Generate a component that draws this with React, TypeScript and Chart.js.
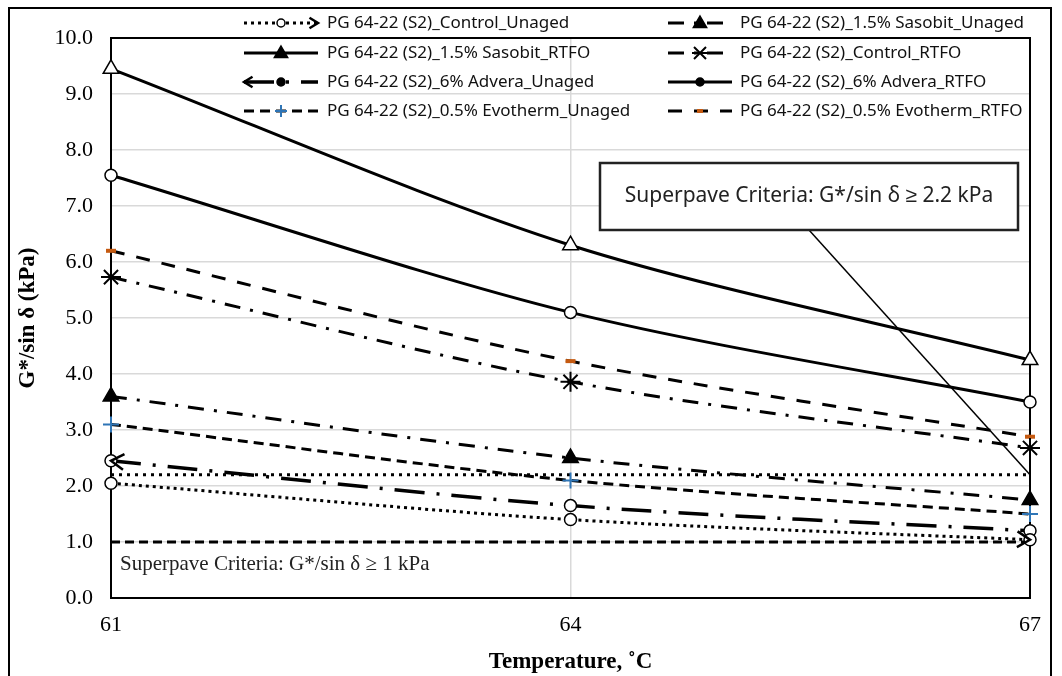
import React, { useEffect, useRef } from "react";
import { Chart, registerables } from "chart.js";

Chart.register(...registerables);

// ---------------- data ----------------
const temperatures = [61, 64, 67];
const xTickValues = [61, 64, 67];
const seriesNames = [
  "PG 64-22 (S2)_Control_Unaged",
  "PG 64-22 (S2)_1.5% Sasobit_Unaged",
  "PG 64-22 (S2)_1.5% Sasobit_RTFO",
  "PG 64-22 (S2)_Control_RTFO",
  "PG 64-22 (S2)_6% Advera_Unaged",
  "PG 64-22 (S2)_6% Advera_RTFO",
  "PG 64-22 (S2)_0.5% Evotherm_Unaged",
  "PG 64-22 (S2)_0.5% Evotherm_RTFO",
];
const controlUnaged = [2.05, 1.4, 1.04];
const sasobitUnaged = [3.6, 2.5, 1.75];
const sasobitRTFO = [9.45, 6.3, 4.25];
const controlRTFO = [5.73, 3.86, 2.68];
const adveraUnaged = [2.45, 1.65, 1.2];
const adveraRTFO = [7.55, 5.1, 3.5];
const evothermUnaged = [3.1, 2.1, 1.5];
const evothermRTFO = [6.2, 4.23, 2.88];
const criterionUnaged = 1.0;
const criterionRTFO = 2.2;
const yMin = 0;
const yMax = 10;
const yStep = 1;
const xTitle = "Temperature, ˚C";
const yTitle = "G*/sin δ (kPa)";
const noteRTFO = "Superpave Criteria: G*/sin δ ≥ 2.2 kPa";
const noteUnaged = "Superpave Criteria: G*/sin δ ≥ 1 kPa";

const SERIF = "'Liberation Serif', 'Times New Roman', serif";
const SANS = "'Noto Sans', 'Liberation Sans', sans-serif";

const toPts = (vals: number[]) => temperatures.map((t, i) => ({ x: t, y: vals[i] }));
const refLine = (v: number) => [
  { x: temperatures[0], y: v },
  { x: temperatures[temperatures.length - 1], y: v },
];

function drawMarker(ctx: CanvasRenderingContext2D, style: string, x: number, y: number, r: number, fill: string, stroke: string, lw: number) {
  ctx.save();
  ctx.setLineDash([]);
  ctx.lineWidth = lw;
  ctx.strokeStyle = stroke;
  ctx.fillStyle = fill;
  ctx.beginPath();
  if (style === "circle") {
    ctx.arc(x, y, r, 0, Math.PI * 2);
    ctx.fill();
    ctx.stroke();
  } else if (style === "triangle") {
    ctx.moveTo(x, y - r);
    ctx.lineTo(x + r * 0.95, y + r * 0.65);
    ctx.lineTo(x - r * 0.95, y + r * 0.65);
    ctx.closePath();
    ctx.fill();
    ctx.stroke();
  } else if (style === "cross") {
    ctx.moveTo(x - r, y);
    ctx.lineTo(x + r, y);
    ctx.moveTo(x, y - r);
    ctx.lineTo(x, y + r);
    ctx.stroke();
  } else if (style === "star") {
    ctx.moveTo(x - r, y);
    ctx.lineTo(x + r, y);
    const d = r * 0.75;
    ctx.moveTo(x - d, y - d);
    ctx.lineTo(x + d, y + d);
    ctx.moveTo(x - d, y + d);
    ctx.lineTo(x + d, y - d);
    ctx.stroke();
  } else if (style === "line") {
    ctx.moveTo(x - r, y);
    ctx.lineTo(x + r, y);
    ctx.stroke();
  }
  ctx.restore();
}

function drawArrowHead(ctx: CanvasRenderingContext2D, tx: number, ty: number, fx: number, fy: number, size: number) {
  const ang = Math.atan2(ty - fy, tx - fx);
  ctx.save();
  ctx.setLineDash([]);
  ctx.strokeStyle = "#000";
  ctx.lineWidth = 2.5;
  ctx.beginPath();
  ctx.moveTo(tx - size * Math.cos(ang - 0.55), ty - size * Math.sin(ang - 0.55));
  ctx.lineTo(tx, ty);
  ctx.lineTo(tx - size * Math.cos(ang + 0.55), ty - size * Math.sin(ang + 0.55));
  ctx.stroke();
  ctx.restore();
}

const framePlugin = {
  id: "plotFrame",
  beforeDatasetsDraw(chart: any) {
    const { ctx, chartArea: a } = chart;
    ctx.save();
    ctx.strokeStyle = "#000";
    ctx.lineWidth = 2;
    ctx.strokeRect(a.left, a.top, a.right - a.left, a.bottom - a.top);
    ctx.restore();
  },
};

const arrowPlugin = {
  id: "arrowEnds",
  afterDatasetsDraw(chart: any) {
    const ctx = chart.ctx;
    chart.data.datasets.forEach((ds: any, i: number) => {
      const pts = chart.getDatasetMeta(i).data;
      if (!pts || pts.length < 2) return;
      if (ds.arrowStart) drawArrowHead(ctx, pts[0].x, pts[0].y, pts[1].x, pts[1].y, 15);
      if (ds.arrowEnd) {
        const n = pts.length;
        drawArrowHead(ctx, pts[n - 1].x, pts[n - 1].y, pts[n - 2].x, pts[n - 2].y, 15);
      }
    });
  },
};

const legendPlugin = {
  id: "customLegend",
  afterDraw(chart: any) {
    const ctx: CanvasRenderingContext2D = chart.ctx;
    const cols = [
      { x0: 244, x1: 318, tx: 327 },
      { x0: 668, x1: 732, tx: 740 },
    ];
    const rows = [23, 53, 82, 111];
    const series = chart.data.datasets.filter((d: any) => !d.isRef);
    series.forEach((ds: any, i: number) => {
      const c = cols[i % 2];
      const y = rows[Math.floor(i / 2)];
      ctx.save();
      ctx.strokeStyle = ds.borderColor;
      ctx.lineWidth = ds.borderWidth;
      ctx.setLineDash(ds.borderDash || []);
      ctx.beginPath();
      ctx.moveTo(c.x0, y);
      ctx.lineTo(c.x1, y);
      ctx.stroke();
      ctx.restore();
      const mx = (c.x0 + c.x1) / 2;
      drawMarker(ctx, ds.pointStyle, mx, y, Math.max(3, ds.pointRadius - 2), ds.legendFill || ds.pointBorderColor, ds.pointBorderColor, ds.pointBorderWidth);
      if (ds.arrowStart) drawArrowHead(ctx, c.x0, y, c.x0 + 10, y, 10);
      if (ds.arrowEnd) drawArrowHead(ctx, c.x1, y, c.x1 - 10, y, 10);
      ctx.save();
      ctx.fillStyle = "#111";
      ctx.font = `17px ${SANS}`;
      ctx.textBaseline = "middle";
      ctx.textAlign = "left";
      ctx.fillText(ds.label, c.tx, y);
      ctx.restore();
    });

    // annotations
    const xs = chart.scales.x;
    const ys = chart.scales.y;
    const bx = 600, by = 163, bw = 418, bh = 67;
    ctx.save();
    ctx.strokeStyle = "#000";
    ctx.lineWidth = 1.5;
    ctx.beginPath();
    ctx.moveTo(bx + bw / 2, by + bh);
    ctx.lineTo(xs.getPixelForValue(temperatures[temperatures.length - 1]), ys.getPixelForValue(criterionRTFO));
    ctx.stroke();
    ctx.fillStyle = "#fff";
    ctx.fillRect(bx, by, bw, bh);
    ctx.lineWidth = 2.5;
    ctx.strokeStyle = "#222";
    ctx.strokeRect(bx, by, bw, bh);
    ctx.fillStyle = "#222";
    ctx.font = `21px ${SANS}`;
    ctx.textAlign = "center";
    ctx.textBaseline = "middle";
    ctx.fillText(noteRTFO, bx + bw / 2, by + bh / 2);
    ctx.font = `21px ${SERIF}`;
    ctx.textAlign = "left";
    ctx.fillStyle = "#222";
    ctx.fillText(noteUnaged, 120, ys.getPixelForValue(criterionUnaged) + 22);
    ctx.restore();
  },
};

export default function App() {
  const ref = useRef<HTMLCanvasElement | null>(null);

  useEffect(() => {
    if (!ref.current) return;
    const black = "#000";
    const datasets: any[] = [
      {
        label: seriesNames[0], data: toPts(controlUnaged), borderColor: black, borderWidth: 3,
        borderDash: [3, 4], pointStyle: "circle", pointRadius: 6, pointBorderColor: black,
        pointBackgroundColor: "#fff", pointBorderWidth: 1.5, legendFill: "#fff", arrowEnd: true,
      },
      {
        label: seriesNames[1], data: toPts(sasobitUnaged), borderColor: black, borderWidth: 3,
        borderDash: [16, 10, 3, 10], pointStyle: "triangle", pointRadius: 9, pointBorderColor: black,
        pointBackgroundColor: black, pointBorderWidth: 1.5,
      },
      {
        label: seriesNames[2], data: toPts(sasobitRTFO), borderColor: black, borderWidth: 3,
        borderDash: [], pointStyle: "triangle", pointRadius: 9, pointBorderColor: black,
        pointBackgroundColor: "#fff", pointBorderWidth: 1.5, legendFill: black,
      },
      {
        label: seriesNames[3], data: toPts(controlRTFO), borderColor: black, borderWidth: 3,
        borderDash: [16, 10, 3, 10], pointStyle: "star", pointRadius: 10, pointBorderColor: black,
        pointBackgroundColor: black, pointBorderWidth: 2,
      },
      {
        label: seriesNames[4], data: toPts(adveraUnaged), borderColor: black, borderWidth: 3.5,
        borderDash: [30, 12, 3, 12], pointStyle: "circle", pointRadius: 6, pointBorderColor: black,
        pointBackgroundColor: "#fff", pointBorderWidth: 1.5, legendFill: black, arrowStart: true,
      },
      {
        label: seriesNames[5], data: toPts(adveraRTFO), borderColor: black, borderWidth: 3,
        borderDash: [], pointStyle: "circle", pointRadius: 6, pointBorderColor: black,
        pointBackgroundColor: "#fff", pointBorderWidth: 1.5, legendFill: black,
      },
      {
        label: seriesNames[6], data: toPts(evothermUnaged), borderColor: black, borderWidth: 3,
        borderDash: [10, 6], pointStyle: "cross", pointRadius: 8, pointBorderColor: "#2e75b6",
        pointBackgroundColor: "#2e75b6", pointBorderWidth: 2,
      },
      {
        label: seriesNames[7], data: toPts(evothermRTFO), borderColor: black, borderWidth: 3,
        borderDash: [14, 12], pointStyle: "line", pointRadius: 5, pointBorderColor: "#c55a11",
        pointBackgroundColor: "#c55a11", pointBorderWidth: 4,
      },
      {
        label: "ref2.2", isRef: true, data: refLine(criterionRTFO), borderColor: black, borderWidth: 3,
        borderDash: [3, 5], pointRadius: 0, tension: 0,
      },
      {
        label: "ref1", isRef: true, data: refLine(criterionUnaged), borderColor: black, borderWidth: 3,
        borderDash: [9, 5], pointRadius: 0, tension: 0,
      },
    ];
    datasets.forEach((d) => {
      d.clip = false;
      d.fill = false;
      if (d.tension === undefined) d.tension = 0.3;
    });

    const chart = new Chart(ref.current, {
      type: "line",
      data: { datasets },
      options: {
        animation: false,
        responsive: false,
        layout: { padding: { top: 38, right: 32, left: 0, bottom: 0 } },
        plugins: { legend: { display: false }, tooltip: { enabled: false } },
        scales: {
          x: {
            type: "linear",
            min: temperatures[0],
            max: temperatures[temperatures.length - 1],
            afterBuildTicks: (s: any) => {
              s.ticks = xTickValues.map((v) => ({ value: v }));
            },
            afterFit: (s: any) => {
              s.height = 78;
            },
            grid: {
              drawTicks: false,
              lineWidth: 1.5,
              color: (c: any) => (c.tick && c.tick.value === 64 ? "#d9d9d9" : "rgba(0,0,0,0)"),
            },
            border: { display: true, color: "#000", width: 2 },
            ticks: { padding: 14, color: "#000", font: { family: SERIF, size: 22 } },
            title: {
              display: true, text: xTitle, color: "#000",
              font: { family: SERIF, size: 23, weight: "bold" }, padding: { top: 2, bottom: 0 },
            },
          },
          y: {
            type: "linear",
            min: yMin,
            max: yMax,
            afterFit: (s: any) => {
              s.width = 111;
            },
            grid: { drawTicks: false, lineWidth: 1.5, color: "#d9d9d9" },
            border: { display: true, color: "#000", width: 2 },
            ticks: {
              stepSize: yStep, padding: 18, color: "#000",
              font: { family: SERIF, size: 22 },
              callback: (v: any) => Number(v).toFixed(1),
            },
            title: {
              display: true, text: yTitle, color: "#000",
              font: { family: SERIF, size: 23, weight: "bold" }, padding: { top: 14, bottom: 0 },
            },
          },
        },
      } as any,
      plugins: [framePlugin, arrowPlugin, legendPlugin],
    });
    return () => chart.destroy();
  }, []);

  return (
    <div style={{ position: "fixed", left: 0, top: 0, width: 1062, height: 676, background: "#fff" }}>
      <canvas ref={ref} width={1062} height={676} style={{ position: "absolute", left: 0, top: 0 }} />
      <div
        style={{
          position: "absolute", left: 8, top: 7, width: 1044, height: 700,
          border: "2px solid #000", boxSizing: "border-box", pointerEvents: "none",
        }}
      />
    </div>
  );
}
